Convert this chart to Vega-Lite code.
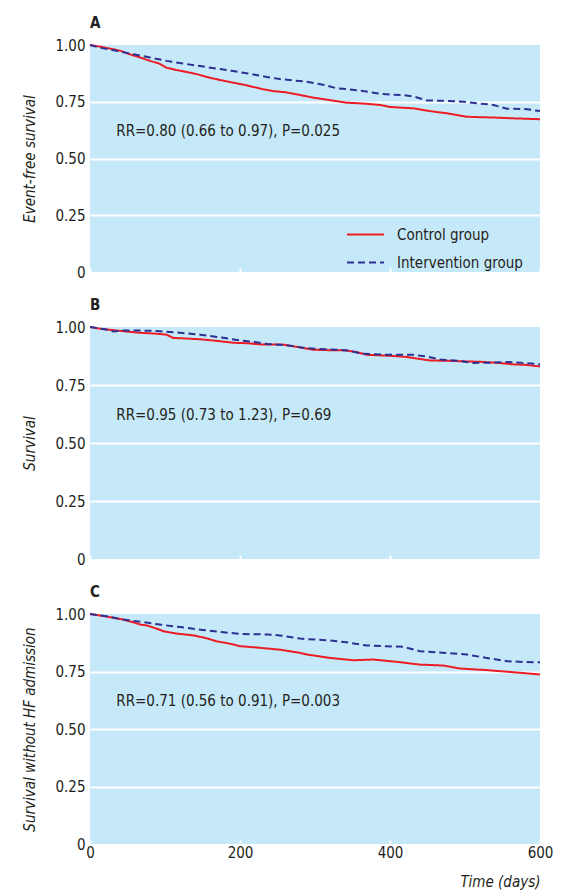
{
  "$schema": "https://vega.github.io/schema/vega-lite/v6.json",
  "padding": {"left": 22, "top": 16, "right": 5, "bottom": 5},
  "spacing": 18,
  "config": {
    "font": "DejaVu Sans Condensed, sans-serif",
    "view": {"fill": "#c6e9f9", "stroke": null},
    "axis": {"labelFontSize": 15, "labelColor": "#231f20", "titleFontSize": 15, "titleFontStyle": "italic", "titleFontWeight": "normal", "titleColor": "#231f20", "domain": false},
    "title": {"anchor": "start", "frame": "group", "fontWeight": "bold", "fontSize": 15, "offset": 7, "color": "#231f20"},
    "legend": {"title": null, "orient": "none", "legendX": 256, "legendY": 170, "symbolType": "stroke", "symbolSize": 1369, "symbolStrokeWidth": 2, "labelFontSize": 15, "labelColor": "#231f20", "labelOffset": 12, "rowPadding": -15}
  },
  "resolve": {"scale": {"color": "independent", "strokeDash": "independent"}, "legend": {"color": "independent", "strokeDash": "independent"}},
  "datasets": {
    "curves": [
      {"panel": "A", "group": "Control group", "day": 0, "surv": 1.000},
      {"panel": "A", "group": "Control group", "day": 13, "surv": 0.993},
      {"panel": "A", "group": "Control group", "day": 27, "surv": 0.984},
      {"panel": "A", "group": "Control group", "day": 40, "surv": 0.975},
      {"panel": "A", "group": "Control group", "day": 53, "surv": 0.959},
      {"panel": "A", "group": "Control group", "day": 67, "surv": 0.945},
      {"panel": "A", "group": "Control group", "day": 80, "surv": 0.930},
      {"panel": "A", "group": "Control group", "day": 91, "surv": 0.920},
      {"panel": "A", "group": "Control group", "day": 102, "surv": 0.900},
      {"panel": "A", "group": "Control group", "day": 115, "surv": 0.890},
      {"panel": "A", "group": "Control group", "day": 129, "surv": 0.881},
      {"panel": "A", "group": "Control group", "day": 142, "surv": 0.872},
      {"panel": "A", "group": "Control group", "day": 156, "surv": 0.859},
      {"panel": "A", "group": "Control group", "day": 173, "surv": 0.846},
      {"panel": "A", "group": "Control group", "day": 191, "surv": 0.834},
      {"panel": "A", "group": "Control group", "day": 205, "surv": 0.825},
      {"panel": "A", "group": "Control group", "day": 218, "surv": 0.815},
      {"panel": "A", "group": "Control group", "day": 231, "surv": 0.805},
      {"panel": "A", "group": "Control group", "day": 244, "surv": 0.797},
      {"panel": "A", "group": "Control group", "day": 260, "surv": 0.792},
      {"panel": "A", "group": "Control group", "day": 275, "surv": 0.783},
      {"panel": "A", "group": "Control group", "day": 298, "surv": 0.768},
      {"panel": "A", "group": "Control group", "day": 320, "surv": 0.757},
      {"panel": "A", "group": "Control group", "day": 342, "surv": 0.746},
      {"panel": "A", "group": "Control group", "day": 365, "surv": 0.742},
      {"panel": "A", "group": "Control group", "day": 387, "surv": 0.736},
      {"panel": "A", "group": "Control group", "day": 400, "surv": 0.727},
      {"panel": "A", "group": "Control group", "day": 431, "surv": 0.721},
      {"panel": "A", "group": "Control group", "day": 453, "surv": 0.709},
      {"panel": "A", "group": "Control group", "day": 476, "surv": 0.699},
      {"panel": "A", "group": "Control group", "day": 502, "surv": 0.684},
      {"panel": "A", "group": "Control group", "day": 520, "surv": 0.682},
      {"panel": "A", "group": "Control group", "day": 542, "surv": 0.680},
      {"panel": "A", "group": "Control group", "day": 564, "surv": 0.677},
      {"panel": "A", "group": "Control group", "day": 600, "surv": 0.673},
      {"panel": "A", "group": "Intervention group", "day": 0, "surv": 1.000},
      {"panel": "A", "group": "Intervention group", "day": 13, "surv": 0.988},
      {"panel": "A", "group": "Intervention group", "day": 35, "surv": 0.975},
      {"panel": "A", "group": "Intervention group", "day": 58, "surv": 0.959},
      {"panel": "A", "group": "Intervention group", "day": 80, "surv": 0.945},
      {"panel": "A", "group": "Intervention group", "day": 102, "surv": 0.930},
      {"panel": "A", "group": "Intervention group", "day": 125, "surv": 0.918},
      {"panel": "A", "group": "Intervention group", "day": 147, "surv": 0.907},
      {"panel": "A", "group": "Intervention group", "day": 169, "surv": 0.896},
      {"panel": "A", "group": "Intervention group", "day": 191, "surv": 0.885},
      {"panel": "A", "group": "Intervention group", "day": 213, "surv": 0.873},
      {"panel": "A", "group": "Intervention group", "day": 236, "surv": 0.859},
      {"panel": "A", "group": "Intervention group", "day": 253, "surv": 0.850},
      {"panel": "A", "group": "Intervention group", "day": 271, "surv": 0.844},
      {"panel": "A", "group": "Intervention group", "day": 285, "surv": 0.840},
      {"panel": "A", "group": "Intervention group", "day": 298, "surv": 0.833},
      {"panel": "A", "group": "Intervention group", "day": 315, "surv": 0.822},
      {"panel": "A", "group": "Intervention group", "day": 329, "surv": 0.809},
      {"panel": "A", "group": "Intervention group", "day": 345, "surv": 0.805},
      {"panel": "A", "group": "Intervention group", "day": 364, "surv": 0.797},
      {"panel": "A", "group": "Intervention group", "day": 387, "surv": 0.785},
      {"panel": "A", "group": "Intervention group", "day": 405, "surv": 0.781},
      {"panel": "A", "group": "Intervention group", "day": 422, "surv": 0.778},
      {"panel": "A", "group": "Intervention group", "day": 435, "surv": 0.770},
      {"panel": "A", "group": "Intervention group", "day": 449, "surv": 0.756},
      {"panel": "A", "group": "Intervention group", "day": 475, "surv": 0.754},
      {"panel": "A", "group": "Intervention group", "day": 498, "surv": 0.750},
      {"panel": "A", "group": "Intervention group", "day": 520, "surv": 0.742},
      {"panel": "A", "group": "Intervention group", "day": 538, "surv": 0.736},
      {"panel": "A", "group": "Intervention group", "day": 556, "surv": 0.719},
      {"panel": "A", "group": "Intervention group", "day": 580, "surv": 0.718},
      {"panel": "A", "group": "Intervention group", "day": 600, "surv": 0.709},
      {"panel": "B", "group": "Control group", "day": 0, "surv": 1.000},
      {"panel": "B", "group": "Control group", "day": 15, "surv": 0.992},
      {"panel": "B", "group": "Control group", "day": 35, "surv": 0.985},
      {"panel": "B", "group": "Control group", "day": 50, "surv": 0.980},
      {"panel": "B", "group": "Control group", "day": 67, "surv": 0.975},
      {"panel": "B", "group": "Control group", "day": 85, "surv": 0.972},
      {"panel": "B", "group": "Control group", "day": 102, "surv": 0.967},
      {"panel": "B", "group": "Control group", "day": 111, "surv": 0.953},
      {"panel": "B", "group": "Control group", "day": 130, "surv": 0.950},
      {"panel": "B", "group": "Control group", "day": 147, "surv": 0.947},
      {"panel": "B", "group": "Control group", "day": 170, "surv": 0.940},
      {"panel": "B", "group": "Control group", "day": 191, "surv": 0.932},
      {"panel": "B", "group": "Control group", "day": 210, "surv": 0.930},
      {"panel": "B", "group": "Control group", "day": 227, "surv": 0.925},
      {"panel": "B", "group": "Control group", "day": 258, "surv": 0.924},
      {"panel": "B", "group": "Control group", "day": 280, "surv": 0.912},
      {"panel": "B", "group": "Control group", "day": 298, "surv": 0.902},
      {"panel": "B", "group": "Control group", "day": 320, "surv": 0.900},
      {"panel": "B", "group": "Control group", "day": 342, "surv": 0.899},
      {"panel": "B", "group": "Control group", "day": 355, "surv": 0.892},
      {"panel": "B", "group": "Control group", "day": 369, "surv": 0.880},
      {"panel": "B", "group": "Control group", "day": 400, "surv": 0.876},
      {"panel": "B", "group": "Control group", "day": 422, "surv": 0.871},
      {"panel": "B", "group": "Control group", "day": 440, "surv": 0.862},
      {"panel": "B", "group": "Control group", "day": 453, "surv": 0.856},
      {"panel": "B", "group": "Control group", "day": 480, "surv": 0.854},
      {"panel": "B", "group": "Control group", "day": 498, "surv": 0.852},
      {"panel": "B", "group": "Control group", "day": 520, "surv": 0.850},
      {"panel": "B", "group": "Control group", "day": 542, "surv": 0.846},
      {"panel": "B", "group": "Control group", "day": 564, "surv": 0.839},
      {"panel": "B", "group": "Control group", "day": 580, "surv": 0.837},
      {"panel": "B", "group": "Control group", "day": 600, "surv": 0.830},
      {"panel": "B", "group": "Intervention group", "day": 0, "surv": 1.000},
      {"panel": "B", "group": "Intervention group", "day": 20, "surv": 0.990},
      {"panel": "B", "group": "Intervention group", "day": 31, "surv": 0.981},
      {"panel": "B", "group": "Intervention group", "day": 45, "surv": 0.985},
      {"panel": "B", "group": "Intervention group", "day": 58, "surv": 0.985},
      {"panel": "B", "group": "Intervention group", "day": 89, "surv": 0.983},
      {"panel": "B", "group": "Intervention group", "day": 120, "surv": 0.975},
      {"panel": "B", "group": "Intervention group", "day": 147, "surv": 0.967},
      {"panel": "B", "group": "Intervention group", "day": 175, "surv": 0.955},
      {"panel": "B", "group": "Intervention group", "day": 200, "surv": 0.942},
      {"panel": "B", "group": "Intervention group", "day": 220, "surv": 0.935},
      {"panel": "B", "group": "Intervention group", "day": 236, "surv": 0.927},
      {"panel": "B", "group": "Intervention group", "day": 260, "surv": 0.922},
      {"panel": "B", "group": "Intervention group", "day": 284, "surv": 0.911},
      {"panel": "B", "group": "Intervention group", "day": 300, "surv": 0.906},
      {"panel": "B", "group": "Intervention group", "day": 320, "surv": 0.903},
      {"panel": "B", "group": "Intervention group", "day": 340, "surv": 0.900},
      {"panel": "B", "group": "Intervention group", "day": 364, "surv": 0.885},
      {"panel": "B", "group": "Intervention group", "day": 400, "surv": 0.880},
      {"panel": "B", "group": "Intervention group", "day": 431, "surv": 0.880},
      {"panel": "B", "group": "Intervention group", "day": 449, "surv": 0.873},
      {"panel": "B", "group": "Intervention group", "day": 467, "surv": 0.860},
      {"panel": "B", "group": "Intervention group", "day": 490, "surv": 0.855},
      {"panel": "B", "group": "Intervention group", "day": 511, "surv": 0.845},
      {"panel": "B", "group": "Intervention group", "day": 533, "surv": 0.846},
      {"panel": "B", "group": "Intervention group", "day": 556, "surv": 0.849},
      {"panel": "B", "group": "Intervention group", "day": 580, "surv": 0.845},
      {"panel": "B", "group": "Intervention group", "day": 600, "surv": 0.839},
      {"panel": "C", "group": "Control group", "day": 0, "surv": 1.000},
      {"panel": "C", "group": "Control group", "day": 20, "surv": 0.990},
      {"panel": "C", "group": "Control group", "day": 44, "surv": 0.976},
      {"panel": "C", "group": "Control group", "day": 60, "surv": 0.962},
      {"panel": "C", "group": "Control group", "day": 67, "surv": 0.954},
      {"panel": "C", "group": "Control group", "day": 76, "surv": 0.950},
      {"panel": "C", "group": "Control group", "day": 90, "surv": 0.935},
      {"panel": "C", "group": "Control group", "day": 98, "surv": 0.925},
      {"panel": "C", "group": "Control group", "day": 115, "surv": 0.915},
      {"panel": "C", "group": "Control group", "day": 138, "surv": 0.907},
      {"panel": "C", "group": "Control group", "day": 155, "surv": 0.895},
      {"panel": "C", "group": "Control group", "day": 169, "surv": 0.881},
      {"panel": "C", "group": "Control group", "day": 185, "surv": 0.872},
      {"panel": "C", "group": "Control group", "day": 200, "surv": 0.860},
      {"panel": "C", "group": "Control group", "day": 220, "surv": 0.855},
      {"panel": "C", "group": "Control group", "day": 236, "surv": 0.850},
      {"panel": "C", "group": "Control group", "day": 253, "surv": 0.845},
      {"panel": "C", "group": "Control group", "day": 280, "surv": 0.831},
      {"panel": "C", "group": "Control group", "day": 289, "surv": 0.824},
      {"panel": "C", "group": "Control group", "day": 320, "surv": 0.809},
      {"panel": "C", "group": "Control group", "day": 351, "surv": 0.799},
      {"panel": "C", "group": "Control group", "day": 378, "surv": 0.802},
      {"panel": "C", "group": "Control group", "day": 409, "surv": 0.792},
      {"panel": "C", "group": "Control group", "day": 440, "surv": 0.780},
      {"panel": "C", "group": "Control group", "day": 471, "surv": 0.776},
      {"panel": "C", "group": "Control group", "day": 493, "surv": 0.763},
      {"panel": "C", "group": "Control group", "day": 529, "surv": 0.756},
      {"panel": "C", "group": "Control group", "day": 564, "surv": 0.747},
      {"panel": "C", "group": "Control group", "day": 600, "surv": 0.737},
      {"panel": "C", "group": "Intervention group", "day": 0, "surv": 1.000},
      {"panel": "C", "group": "Intervention group", "day": 22, "surv": 0.990},
      {"panel": "C", "group": "Intervention group", "day": 44, "surv": 0.976},
      {"panel": "C", "group": "Intervention group", "day": 70, "surv": 0.965},
      {"panel": "C", "group": "Intervention group", "day": 93, "surv": 0.954},
      {"panel": "C", "group": "Intervention group", "day": 120, "surv": 0.943},
      {"panel": "C", "group": "Intervention group", "day": 147, "surv": 0.932},
      {"panel": "C", "group": "Intervention group", "day": 175, "surv": 0.922},
      {"panel": "C", "group": "Intervention group", "day": 200, "surv": 0.913},
      {"panel": "C", "group": "Intervention group", "day": 236, "surv": 0.911},
      {"panel": "C", "group": "Intervention group", "day": 253, "surv": 0.907},
      {"panel": "C", "group": "Intervention group", "day": 280, "surv": 0.893},
      {"panel": "C", "group": "Intervention group", "day": 289, "surv": 0.891},
      {"panel": "C", "group": "Intervention group", "day": 320, "surv": 0.885},
      {"panel": "C", "group": "Intervention group", "day": 342, "surv": 0.877},
      {"panel": "C", "group": "Intervention group", "day": 369, "surv": 0.863},
      {"panel": "C", "group": "Intervention group", "day": 395, "surv": 0.860},
      {"panel": "C", "group": "Intervention group", "day": 418, "surv": 0.857},
      {"panel": "C", "group": "Intervention group", "day": 440, "surv": 0.838},
      {"panel": "C", "group": "Intervention group", "day": 470, "surv": 0.832},
      {"panel": "C", "group": "Intervention group", "day": 502, "surv": 0.824},
      {"panel": "C", "group": "Intervention group", "day": 529, "surv": 0.809},
      {"panel": "C", "group": "Intervention group", "day": 556, "surv": 0.795},
      {"panel": "C", "group": "Intervention group", "day": 580, "surv": 0.791},
      {"panel": "C", "group": "Intervention group", "day": 600, "surv": 0.790}
    ],
    "notes": [
      {"panel": "A", "day": 35, "surv": 0.62, "label": "RR=0.80 (0.66 to 0.97), P=0.025"},
      {"panel": "B", "day": 35, "surv": 0.62, "label": "RR=0.95 (0.73 to 1.23), P=0.69"},
      {"panel": "C", "day": 35, "surv": 0.62, "label": "RR=0.71 (0.56 to 0.91), P=0.003"}
    ]
  },
  "vconcat": [
    {
      "width": 450, "height": 227,
      "title": {"text": "A"},
      "layer": [
        {
          "data": {"name": "curves"},
          "transform": [{"filter": "datum.panel == 'A'"}],
          "mark": {"type": "line", "strokeWidth": 2},
          "encoding": {
            "x": {"field": "day", "type": "quantitative", "scale": {"domain": [0, 600], "nice": false},
                  "axis": {"values": [0, 200, 400, 600], "labels": false, "ticks": true, "tickColor": "white", "tickSize": -4, "tickWidth": 2, "grid": false, "title": null}},
            "y": {"field": "surv", "type": "quantitative", "scale": {"domain": [0, 1], "nice": false},
                  "axis": {"values": [0, 0.25, 0.5, 0.75, 1], "labelExpr": "datum.value == 0 ? '0' : format(datum.value, '.2f')", "ticks": false, "grid": true, "gridColor": "white", "gridWidth": 2, "gridOpacity": {"condition": {"test": "datum.value == 0 || datum.value == 1", "value": 0}, "value": 1}, "labelPadding": 5, "title": "Event-free survival", "titlePadding": 17}},
            "color": {"field": "group", "type": "nominal", "scale": {"domain": ["Control group", "Intervention group"], "range": ["#ed1c24", "#2e3192"]}, "legend": {}},
            "strokeDash": {"field": "group", "type": "nominal", "scale": {"domain": ["Control group", "Intervention group"], "range": [[1, 0], [7, 4]]}, "legend": {}}
          }
        },
        {
          "data": {"name": "notes"},
          "transform": [{"filter": "datum.panel == 'A'"}],
          "mark": {"type": "text", "align": "left", "baseline": "middle", "fontSize": 15, "color": "#231f20"},
          "encoding": {
            "x": {"field": "day", "type": "quantitative"},
            "y": {"field": "surv", "type": "quantitative"},
            "text": {"field": "label"}
          }
        }
      ]
    },
    {
      "width": 450, "height": 232,
      "title": {"text": "B"},
      "layer": [
        {
          "data": {"name": "curves"},
          "transform": [{"filter": "datum.panel == 'B'"}],
          "mark": {"type": "line", "strokeWidth": 2},
          "encoding": {
            "x": {"field": "day", "type": "quantitative", "scale": {"domain": [0, 600], "nice": false},
                  "axis": {"values": [0, 200, 400, 600], "labels": false, "ticks": true, "tickColor": "white", "tickSize": -4, "tickWidth": 2, "grid": false, "title": null}},
            "y": {"field": "surv", "type": "quantitative", "scale": {"domain": [0, 1], "nice": false},
                  "axis": {"values": [0, 0.25, 0.5, 0.75, 1], "labelExpr": "datum.value == 0 ? '0' : format(datum.value, '.2f')", "ticks": false, "grid": true, "gridColor": "white", "gridWidth": 2, "gridOpacity": {"condition": {"test": "datum.value == 0 || datum.value == 1", "value": 0}, "value": 1}, "labelPadding": 5, "title": "Survival", "titlePadding": 17}},
            "color": {"field": "group", "type": "nominal", "scale": {"domain": ["Control group", "Intervention group"], "range": ["#ed1c24", "#2e3192"]}, "legend": null},
            "strokeDash": {"field": "group", "type": "nominal", "scale": {"domain": ["Control group", "Intervention group"], "range": [[1, 0], [7, 4]]}, "legend": null}
          }
        },
        {
          "data": {"name": "notes"},
          "transform": [{"filter": "datum.panel == 'B'"}],
          "mark": {"type": "text", "align": "left", "baseline": "middle", "fontSize": 15, "color": "#231f20"},
          "encoding": {
            "x": {"field": "day", "type": "quantitative"},
            "y": {"field": "surv", "type": "quantitative"},
            "text": {"field": "label"}
          }
        }
      ]
    },
    {
      "width": 450, "height": 230,
      "title": {"text": "C"},
      "layer": [
        {
          "data": {"name": "curves"},
          "transform": [{"filter": "datum.panel == 'C'"}],
          "mark": {"type": "line", "strokeWidth": 2},
          "encoding": {
            "x": {"field": "day", "type": "quantitative", "scale": {"domain": [0, 600], "nice": false},
                  "axis": {"values": [0, 200, 400, 600], "labels": true, "labelFlush": false, "ticks": true, "tickColor": "white", "tickSize": -4, "tickWidth": 2, "grid": false, "labelPadding": 5, "title": "Time (days)", "titleAnchor": "end", "titlePadding": 14}},
            "y": {"field": "surv", "type": "quantitative", "scale": {"domain": [0, 1], "nice": false},
                  "axis": {"values": [0, 0.25, 0.5, 0.75, 1], "labelExpr": "datum.value == 0 ? '0' : format(datum.value, '.2f')", "ticks": false, "grid": true, "gridColor": "white", "gridWidth": 2, "gridOpacity": {"condition": {"test": "datum.value == 0 || datum.value == 1", "value": 0}, "value": 1}, "labelPadding": 5, "title": "Survival without HF admission", "titlePadding": 17}},
            "color": {"field": "group", "type": "nominal", "scale": {"domain": ["Control group", "Intervention group"], "range": ["#ed1c24", "#2e3192"]}, "legend": null},
            "strokeDash": {"field": "group", "type": "nominal", "scale": {"domain": ["Control group", "Intervention group"], "range": [[1, 0], [7, 4]]}, "legend": null}
          }
        },
        {
          "data": {"name": "notes"},
          "transform": [{"filter": "datum.panel == 'C'"}],
          "mark": {"type": "text", "align": "left", "baseline": "middle", "fontSize": 15, "color": "#231f20"},
          "encoding": {
            "x": {"field": "day", "type": "quantitative"},
            "y": {"field": "surv", "type": "quantitative"},
            "text": {"field": "label"}
          }
        }
      ]
    }
  ]
}
